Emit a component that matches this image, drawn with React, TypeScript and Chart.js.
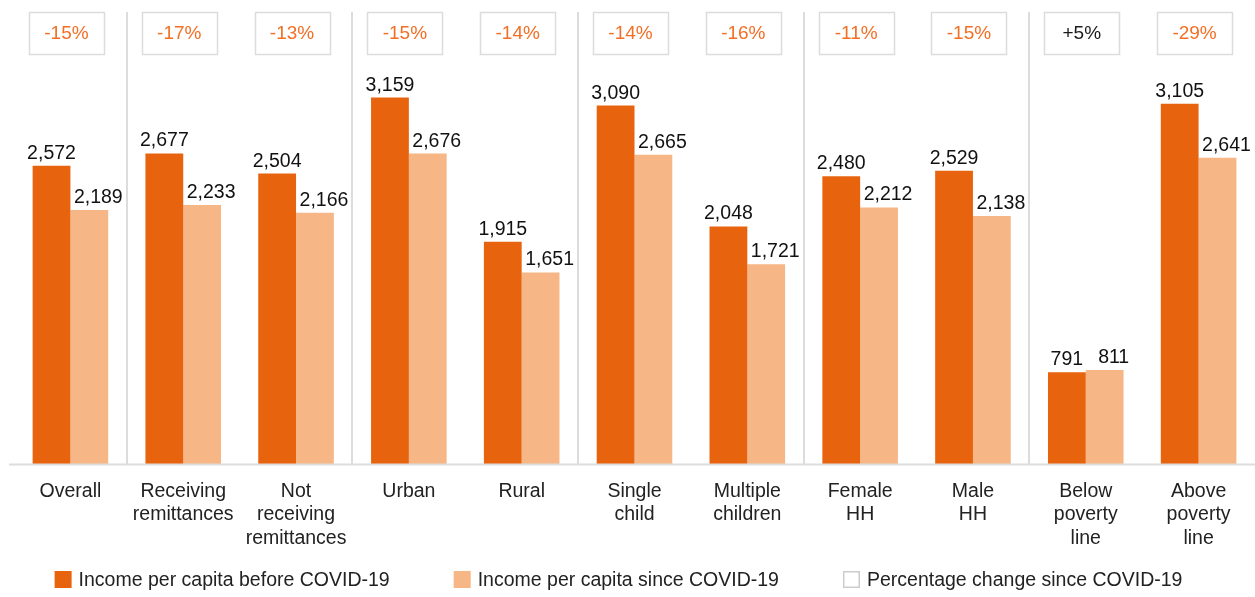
import React, { useEffect, useRef } from 'react';
import { Chart, registerables } from 'chart.js';

Chart.register(...registerables);

const categories: string[][] = [
  ['Overall'],
  ['Receiving', 'remittances'],
  ['Not', 'receiving', 'remittances'],
  ['Urban'],
  ['Rural'],
  ['Single', 'child'],
  ['Multiple', 'children'],
  ['Female', 'HH'],
  ['Male', 'HH'],
  ['Below', 'poverty', 'line'],
  ['Above', 'poverty', 'line'],
];
const incomeBefore = [2572, 2677, 2504, 3159, 1915, 3090, 2048, 2480, 2529, 791, 3105];
const incomeSince = [2189, 2233, 2166, 2676, 1651, 2665, 1721, 2212, 2138, 811, 2641];
const pctChange = ['-15%', '-17%', '-13%', '-15%', '-14%', '-14%', '-16%', '-11%', '-15%', '+5%', '-29%'];
const groupBreaksAfter = [0, 2, 4, 6, 8];
const seriesNames = [
  'Income per capita before COVID-19',
  'Income per capita since COVID-19',
  'Percentage change since COVID-19',
];

const FONT = '"Liberation Sans", Arial, sans-serif';
const DARK = '#E8630E';
const LIGHT = '#F7B685';
const PCT_ORANGE = '#F26F25';
const GRID = '#DCDCDC';
const TEXT = '#222222';

const overlay = {
  id: 'overlay',
  afterDatasetsDraw(chart: any) {
    const { ctx, chartArea } = chart;
    const x = chart.scales.x;
    ctx.save();
    // group separators
    ctx.strokeStyle = GRID;
    ctx.lineWidth = 2;
    groupBreaksAfter.forEach((i) => {
      const px = Math.round((x.getPixelForValue(i) + x.getPixelForValue(i + 1)) / 2);
      ctx.beginPath();
      ctx.moveTo(px, 12);
      ctx.lineTo(px, chartArea.bottom);
      ctx.stroke();
    });
    // baseline
    ctx.beginPath();
    ctx.moveTo(9, chartArea.bottom + 0.5);
    ctx.lineTo(chart.width, chartArea.bottom + 0.5);
    ctx.stroke();
    // percentage boxes
    ctx.font = `19px ${FONT}`;
    ctx.textAlign = 'center';
    ctx.textBaseline = 'middle';
    pctChange.forEach((t, i) => {
      const cx = x.getPixelForValue(i) - 4;
      ctx.strokeStyle = GRID;
      ctx.lineWidth = 1.5;
      ctx.strokeRect(Math.round(cx - 37.5) + 0.5, 12.5, 75, 42);
      ctx.fillStyle = t.startsWith('+') ? '#1a1a1a' : PCT_ORANGE;
      ctx.fillText(t, cx, 34);
    });
    // value labels
    ctx.font = `19.5px ${FONT}`;
    ctx.fillStyle = '#111111';
    ctx.textBaseline = 'alphabetic';
    chart.data.datasets.forEach((ds: any, di: number) => {
      const meta = chart.getDatasetMeta(di);
      meta.data.forEach((bar: any, i: number) => {
        const v = ds.data[i];
        const off = di === 1 ? 9 : 0;
        ctx.fillText(v.toLocaleString('en-US'), bar.x + off, bar.y - 7);
      });
    });
    ctx.restore();
  },
  afterDraw(chart: any) {
    const { ctx } = chart;
    ctx.save();
    ctx.font = `19.5px ${FONT}`;
    ctx.textBaseline = 'middle';
    ctx.textAlign = 'left';
    const fills = [DARK, LIGHT, '#ffffff'];
    const box = 17;
    const gapText = 7;
    const gapItem = 64;
    const widths = seriesNames.map((n) => box + gapText + ctx.measureText(n).width);
    const total = widths.reduce((a, b) => a + b, 0) + gapItem * (widths.length - 1);
    let cx = chart.width / 2 - 9 - total / 2;
    const yTop = 571;
    seriesNames.forEach((n, i) => {
      ctx.fillStyle = fills[i];
      ctx.fillRect(cx, yTop, box, box);
      if (i === 2) {
        ctx.strokeStyle = '#cccccc';
        ctx.lineWidth = 1.5;
        ctx.strokeRect(cx + 0.75, yTop + 0.75, box - 1.5, box - 1.5);
      }
      ctx.fillStyle = TEXT;
      ctx.fillText(n, cx + box + gapText, yTop + box / 2 + 1);
      cx += widths[i] + gapItem;
    });
    ctx.restore();
  },
};

export default function App() {
  const ref = useRef<HTMLCanvasElement>(null);
  useEffect(() => {
    if (!ref.current) return;
    const chart = new Chart(ref.current, {
      type: 'bar',
      data: {
        labels: categories,
        datasets: [
          { label: seriesNames[0], data: incomeBefore, backgroundColor: DARK },
          { label: seriesNames[1], data: incomeSince, backgroundColor: LIGHT },
        ],
      },
      options: {
        animation: false,
        responsive: false,
        devicePixelRatio: 1,
        layout: { padding: { left: 14, right: 0, top: 0, bottom: 49 } },
        datasets: { bar: { categoryPercentage: 0.67, barPercentage: 1 } },
        scales: {
          x: {
            grid: { display: false, drawTicks: false },
            border: { display: false },
            ticks: {
              color: TEXT,
              padding: 16,
              maxRotation: 0,
              autoSkip: false,
              font: { family: FONT, size: 19.5, lineHeight: 1.2 },
            },
            afterFit: (s: any) => {
              s.height = 84;
            },
          },
          y: { display: false, min: 0, max: 4000 },
        },
        plugins: {
          tooltip: { enabled: false },
          legend: { display: false },
        },
      },
      plugins: [overlay],
    });
    return () => chart.destroy();
  }, []);
  return (
    <div style={{ position: 'absolute', left: 0, top: 0, width: 1255, height: 597, background: '#fff' }}>
      <canvas ref={ref} width={1255} height={597} />
    </div>
  );
}
